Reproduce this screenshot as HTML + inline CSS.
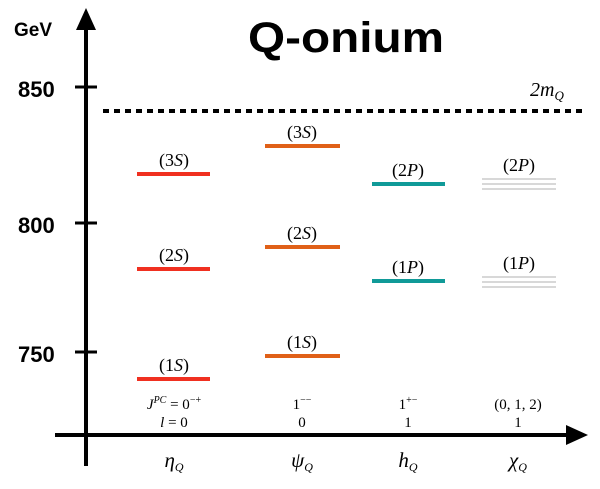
<!DOCTYPE html><html><head><style>body{margin:0;background:#fff}.s{font-family:"Liberation Sans",sans-serif;font-weight:bold}.r{font-family:"Liberation Serif",serif}</style></head><body>
<svg width="600" height="484" viewBox="0 0 600 484" xmlns="http://www.w3.org/2000/svg">
<rect width="600" height="484" fill="#fff"/>
<line x1="86" y1="30" x2="86" y2="466" stroke="#000" stroke-width="4"/>
<polygon points="86,8 76,30 96,30" fill="#000"/>
<line x1="55" y1="435" x2="570" y2="435" stroke="#000" stroke-width="4"/>
<polygon points="588,435 566,425 566,445" fill="#000"/>
<g stroke="#000" stroke-width="3"><line x1="75" y1="87" x2="97" y2="87"/><line x1="75" y1="223" x2="97" y2="223"/><line x1="75" y1="352" x2="97" y2="352"/></g>
<g class="s" fill="#000">
<text class="s" x="14" y="36" font-size="19">GeV</text>
<text class="s" x="18" y="97" font-size="22">850</text>
<text class="s" x="18" y="233" font-size="22">800</text>
<text class="s" x="18" y="362" font-size="22">750</text>
<text class="s" x="248" y="52" font-size="43" textLength="196" lengthAdjust="spacingAndGlyphs">Q-onium</text>
</g>
<line x1="103" y1="111" x2="582" y2="111" stroke="#000" stroke-width="4" stroke-dasharray="6,5"/>
<g class="r">
<text x="530" y="96" font-size="20" font-style="italic">2m<tspan font-size="13" dy="4">Q</tspan></text>
</g>
<g stroke-width="4">
<line x1="137" y1="174" x2="210" y2="174" stroke="#f03020"/>
<line x1="137" y1="269" x2="210" y2="269" stroke="#f03020"/>
<line x1="137" y1="379" x2="210" y2="379" stroke="#f03020"/>
<line x1="265" y1="146" x2="340" y2="146" stroke="#e06018"/>
<line x1="265" y1="247" x2="340" y2="247" stroke="#e06018"/>
<line x1="265" y1="356" x2="340" y2="356" stroke="#e06018"/>
<line x1="372" y1="184" x2="445" y2="184" stroke="#109a98"/>
<line x1="372" y1="281" x2="445" y2="281" stroke="#109a98"/>
</g>
<g stroke="#ccc" stroke-width="1.5">
<line x1="482" y1="179" x2="556" y2="179"/><line x1="482" y1="184" x2="556" y2="184"/><line x1="482" y1="189" x2="556" y2="189"/>
<line x1="482" y1="277" x2="556" y2="277"/><line x1="482" y1="282" x2="556" y2="282"/><line x1="482" y1="287" x2="556" y2="287"/>
</g>
<g class="r" font-size="18" text-anchor="middle" fill="#000">
<text x="174" y="166">(3<tspan font-style="italic">S</tspan>)</text>
<text x="174" y="261">(2<tspan font-style="italic">S</tspan>)</text>
<text x="174" y="371">(1<tspan font-style="italic">S</tspan>)</text>
<text x="302" y="138">(3<tspan font-style="italic">S</tspan>)</text>
<text x="302" y="239">(2<tspan font-style="italic">S</tspan>)</text>
<text x="302" y="348">(1<tspan font-style="italic">S</tspan>)</text>
<text x="408" y="176">(2<tspan font-style="italic">P</tspan>)</text>
<text x="408" y="273">(1<tspan font-style="italic">P</tspan>)</text>
<text x="519" y="171">(2<tspan font-style="italic">P</tspan>)</text>
<text x="519" y="269">(1<tspan font-style="italic">P</tspan>)</text>
</g>
<g class="r" font-size="15" text-anchor="middle" fill="#000">
<text x="174" y="409"><tspan font-style="italic">J</tspan><tspan font-size="10" dy="-6" font-style="italic">PC</tspan><tspan dy="6"> = 0</tspan><tspan font-size="10" dy="-6">−+</tspan></text>
<text x="174" y="427"><tspan font-style="italic">l</tspan> = 0</text>
<text x="302" y="409">1<tspan font-size="10" dy="-6">−−</tspan></text>
<text x="302" y="427">0</text>
<text x="408" y="409">1<tspan font-size="10" dy="-6">+−</tspan></text>
<text x="408" y="427">1</text>
<text x="518" y="409">(0, 1, 2)</text>
<text x="518" y="427">1</text>
</g>
<g class="r" font-size="21" font-style="italic" text-anchor="middle" fill="#000">
<text x="174" y="467">η<tspan font-size="12" dy="4">Q</tspan></text>
<text x="302" y="467">ψ<tspan font-size="12" dy="4">Q</tspan></text>
<text x="408" y="467">h<tspan font-size="12" dy="4">Q</tspan></text>
<text x="518" y="467">χ<tspan font-size="12" dy="4">Q</tspan></text>
</g>
</svg></body></html>
